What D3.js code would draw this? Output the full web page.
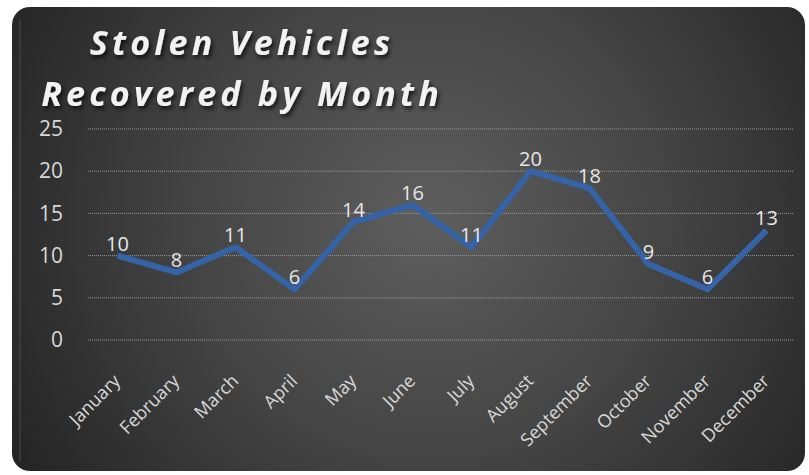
<!DOCTYPE html>
<html>
<head>
<meta charset="utf-8">
<script src="https://cdn.jsdelivr.net/npm/d3@7"></script>
<style>
  html, body { margin: 0; padding: 0; background: #fff; }
  svg { display: block; }
</style>
</head>
<body>
<div id="chart"></div>
<script>
const width = 809;
const height = 475;

// data
const months = ["January", "February", "March", "April", "May", "June",
  "July", "August", "September", "October", "November", "December"];
const recovered = [10, 8, 11, 6, 14, 16, 11, 20, 18, 9, 6, 13];
const yTicks = [0, 5, 10, 15, 20, 25];
const titleLines = ["Stolen Vehicles", "Recovered by Month"];

const plot = { left: 88, right: 796, top: 129, bottom: 340 };

const svg = d3.select("#chart")
  .append("svg")
  .attr("width", width)
  .attr("height", height);

const defs = svg.append("defs");

// radial background gradient (lighter in the middle)
const grad = defs.append("radialGradient")
  .attr("id", "bg")
  .attr("gradientUnits", "userSpaceOnUse")
  .attr("cx", 430).attr("cy", 220).attr("r", 480);
grad.append("stop").attr("offset", "0%").attr("stop-color", "#5e5e5e");
grad.append("stop").attr("offset", "50%").attr("stop-color", "#444");
grad.append("stop").attr("offset", "100%").attr("stop-color", "#242424");

const shadow = defs.append("filter").attr("id", "shadow")
  .attr("x", "-10%").attr("y", "-20%").attr("width", "120%").attr("height", "150%");
shadow.append("feDropShadow")
  .attr("dx", 2).attr("dy", 3).attr("stdDeviation", 2)
  .attr("flood-color", "#000").attr("flood-opacity", 0.7);

// background panel
svg.append("rect")
  .attr("x", 12).attr("y", 7)
  .attr("width", 793).attr("height", 464)
  .attr("rx", 18)
  .attr("fill", "url(#bg)");
svg.append("line")
  .attr("x1", 20).attr("x2", 20).attr("y1", 20).attr("y2", 462)
  .attr("stroke", "#4a4a4a").attr("stroke-width", 1);

// scales
const x = d3.scaleBand()
  .domain(months)
  .range([plot.left, plot.right]);

const y = d3.scaleLinear()
  .domain([0, 25])
  .range([plot.bottom, plot.top]);

// gridlines
svg.append("g")
  .selectAll("line")
  .data(yTicks)
  .join("line")
  .attr("x1", plot.left).attr("x2", plot.right - 2)
  .attr("y1", d => y(d)).attr("y2", d => y(d))
  .attr("stroke", "#9a9a9a")
  .attr("stroke-width", 1)
  .attr("stroke-dasharray", "1,1");

// y axis labels
const yAxis = d3.axisLeft(y).tickValues(yTicks).tickSize(0).tickPadding(0);
svg.append("g")
  .attr("transform", `translate(63,0)`)
  .call(yAxis)
  .call(g => g.select(".domain").remove())
  .selectAll("text")
  .attr("fill", "#d9d9d9")
  .style("font-family", "'Open Sans', sans-serif")
  .style("font-size", "21px");

// x axis labels
const xAxis = d3.axisBottom(x).tickSize(0).tickPadding(0);
svg.append("g")
  .attr("transform", `translate(0,${plot.bottom})`)
  .call(xAxis)
  .call(g => g.select(".domain").remove())
  .selectAll("text")
  .attr("fill", "#d9d9d9")
  .style("font-family", "'Open Sans', sans-serif")
  .style("font-size", "18px")
  .style("text-anchor", "end")
  .attr("dy", "0")
  .attr("transform", "translate(4,42) rotate(-45)");

// line
const line = d3.line()
  .x((d, i) => x(months[i]) + x.bandwidth() / 2)
  .y(d => y(d));

svg.append("path")
  .datum(recovered)
  .attr("d", line)
  .attr("fill", "none")
  .attr("stroke", "#3563a8")
  .attr("stroke-width", 6)
  .attr("stroke-linejoin", "round")
  .attr("stroke-linecap", "butt");

// data labels
svg.append("g")
  .selectAll("text")
  .data(recovered)
  .join("text")
  .attr("x", (d, i) => x(months[i]) + x.bandwidth() / 2)
  .attr("y", d => y(d) - 5)
  .attr("text-anchor", "middle")
  .attr("fill", "#e6e6e6")
  .style("font-family", "'Open Sans', sans-serif")
  .style("font-size", "20px")
  .text(d => d);

// title
svg.append("g")
  .attr("filter", "url(#shadow)")
  .selectAll("text")
  .data(titleLines)
  .join("text")
  .attr("x", 242)
  .attr("y", (d, i) => 55 + i * 51)
  .attr("text-anchor", "middle")
  .attr("fill", "#f2f2f2")
  .style("font-family", "'Open Sans', sans-serif")
  .style("font-size", "34px")
  .style("font-weight", "bold")
  .style("font-style", "italic")
  .style("letter-spacing", "4.2px")
  .text(d => d);
</script>
</body>
</html>
